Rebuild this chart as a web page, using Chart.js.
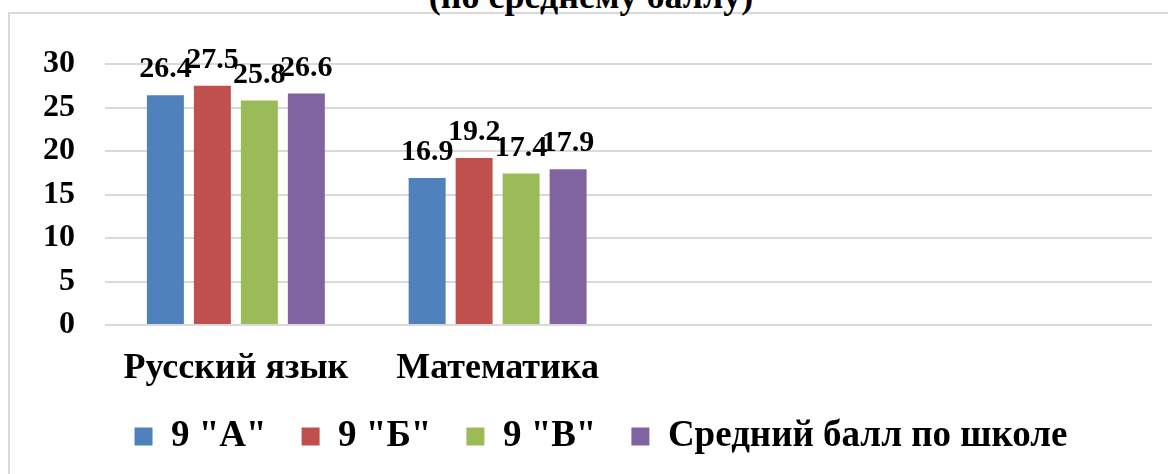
<!DOCTYPE html>
<html>
<head>
<meta charset="utf-8">
<script src="https://cdn.jsdelivr.net/npm/chart.js@4"></script>
<style>
  html, body { margin: 0; padding: 0; background: #fff; overflow: hidden; }
  #wrap { position: relative; width: 1168px; height: 474px; }
  #frame { position: absolute; left: 8px; top: 12px; width: 1300px; height: 600px;
           border-left: 2px solid #d9d9d9; border-top: 2px solid #d9d9d9; }
  #title { position: absolute; left: 291px; width: 600px; top: -22px; text-align: center;
           font: bold 36px/36px 'Liberation Serif', serif; color: #000; white-space: nowrap; }
  canvas { position: absolute; left: 0; top: 0; }
</style>
</head>
<body>
<div id="wrap">
  <div id="frame"></div>
  <div id="title">(по среднему баллу)</div>
  <canvas id="chart" width="1168" height="474"></canvas>
</div>
<script>
const subjects = ['Русский язык', 'Математика', '', ''];
const seriesNames = ['9 "А"', '9 "Б"', '9 "В"', 'Средний балл по школе'];
const class9A = [26.4, 16.9];
const class9B = [27.5, 19.2];
const class9V = [25.8, 17.4];
const schoolAvg = [26.6, 17.9];
const yTicks = [0, 5, 10, 15, 20, 25, 30];

const colors = ['#4F81BD', '#C0504D', '#9BBB59', '#8064A2'];
const FONT = 'Liberation Serif';

// value labels above bars
const barLabels = {
    id: 'barLabels',
    afterDatasetsDraw(chart) {
        const ctx = chart.ctx;
        ctx.save();
        ctx.font = `bold 30px '${FONT}'`;
        ctx.fillStyle = '#000';
        ctx.textAlign = 'center';
        ctx.textBaseline = 'alphabetic';
        chart.data.datasets.forEach((ds, i) => {
            chart.getDatasetMeta(i).data.forEach((bar, j) => {
                const v = ds.data[j];
                if (v == null) return;
                ctx.fillText(v.toFixed(1), bar.x, bar.y - 18);
            });
        });
        ctx.restore();
    }
};

// the legend sits a bit right of the canvas centre in the original
const legendShift = {
    id: 'legendShift',
    afterLayout(chart) {
        chart.legend.left += 50;
    }
};

const ctx = document.getElementById('chart').getContext('2d');

new Chart(ctx, {
    type: 'bar',
    data: {
        labels: subjects,
        datasets: [class9A, class9B, class9V, schoolAvg].map((d, i) => ({
            label: seriesNames[i],
            data: d,
            backgroundColor: colors[i],
            categoryPercentage: 0.718,
            barPercentage: 0.787,
        }))
    },
    options: {
        responsive: false,
        animation: false,
        layout: { padding: { top: 64, right: 16, bottom: 9, left: 0 } },
        plugins: {
            title: { display: false },
            tooltip: { enabled: false },
            legend: {
                position: 'bottom',
                labels: {
                    boxWidth: 18,
                    boxHeight: 18,
                    padding: 35,
                    color: '#000',
                    font: { family: FONT, size: 37, weight: 'bold' },
                }
            }
        },
        scales: {
            x: {
                grid: { display: false, drawTicks: false },
                border: { display: false },
                ticks: {
                    color: '#000',
                    // mirrored so the labels are not clipped to the short axis box
                    mirror: true,
                    padding: -65,
                    maxRotation: 0,
                    autoSkip: false,
                    font: { family: FONT, size: 36, weight: 'bold' },
                },
                afterFit: s => { s.height = 58; },
            },
            y: {
                min: 0,
                max: 30,
                afterBuildTicks: s => { s.ticks = yTicks.map(v => ({ value: v })); },
                grid: { color: '#d9d9d9', lineWidth: 2, drawTicks: false },
                border: { display: false },
                ticks: {
                    color: '#000',
                    padding: 30,
                    font: { family: FONT, size: 32, weight: 'bold' },
                },
                afterFit: s => { s.width = 105; },
            },
        },
    },
    plugins: [barLabels, legendShift],
});
</script>
</body>
</html>
